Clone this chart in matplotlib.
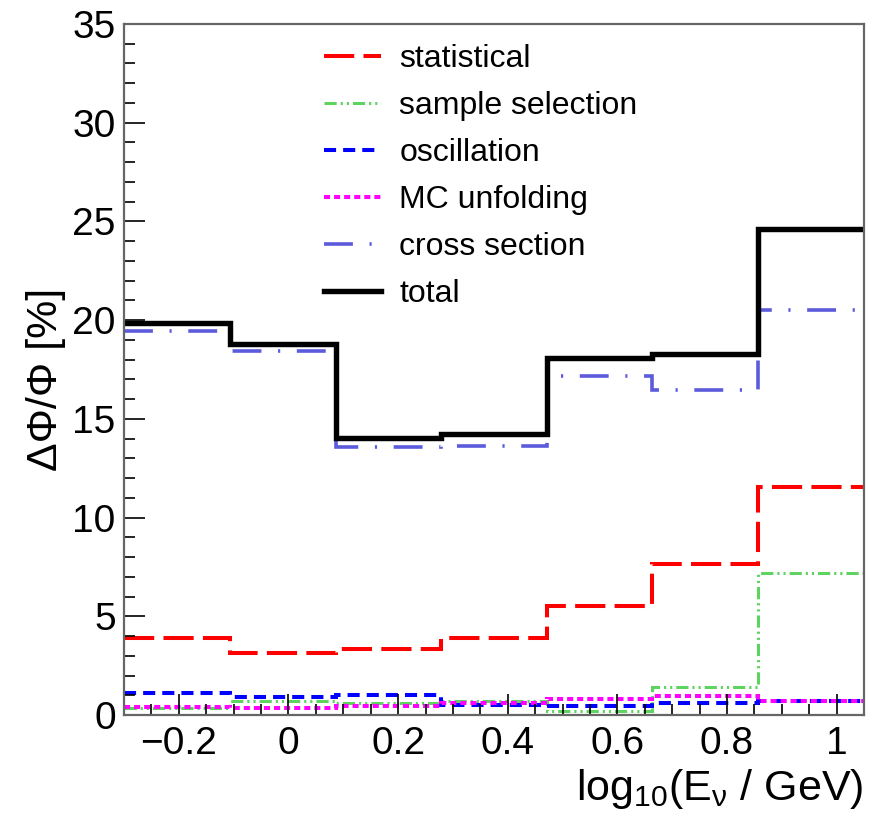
import matplotlib
matplotlib.use("Agg")
import matplotlib.pyplot as plt
from matplotlib.ticker import MultipleLocator

plt.rcParams["font.family"] = ["Liberation Sans", "DejaVu Sans"]
plt.rcParams["mathtext.fontset"] = "custom"
plt.rcParams["mathtext.rm"] = "Liberation Sans"
plt.rcParams["mathtext.it"] = "Liberation Sans"
plt.rcParams["axes.unicode_minus"] = True

# log10(E/GeV) bin edges
edges = [-0.3, -0.107, 0.086, 0.279, 0.471, 0.664, 0.857, 1.05]

# relative flux uncertainty per bin [%]
statistical = [3.88, 3.13, 3.33, 3.88, 5.52, 7.63, 11.53]
sample_sel = [0.38, 0.70, 0.62, 0.72, 0.20, 1.40, 7.21]
oscillation = [1.10, 0.93, 1.01, 0.51, 0.46, 0.59, 0.69]
mc_unfold = [0.42, 0.37, 0.46, 0.59, 0.81, 0.96, 0.69]
xsec = [19.47, 18.44, 13.59, 13.62, 17.19, 16.46, 20.52]
total = [19.87, 18.78, 14.05, 14.22, 18.07, 18.27, 24.62]

labels = ["statistical", "sample selection", "oscillation", "MC unfolding",
          "cross section", "total"]

fig = plt.figure(figsize=(8.76, 8.27), dpi=100)
ax = fig.add_axes([0.1416, 0.1354, 0.8447, 0.8356])

ax.stairs(statistical, edges, baseline=None, color="#ff0000", lw=2.9,
          linestyle=(0, (7.5, 2.3)), label=labels[0])
ax.stairs(sample_sel, edges, baseline=None, color="#5fd35f", lw=2.2,
          linestyle=(0, (4, 1.3, 0.7, 1.3, 0.7, 1.3)), label=labels[1])
ax.stairs(oscillation, edges, baseline=None, color="#0000ff", lw=2.9,
          linestyle=(0, (3, 1.75)), label=labels[2])
ax.stairs(mc_unfold, edges, baseline=None, color="#ff00ff", lw=2.9,
          linestyle=(0, (1.5, 1)), label=labels[3])
ax.stairs(xsec, edges, baseline=None, color="#5b5bdc", lw=2.6,
          linestyle=(0, (8, 4.6, 0.6, 4.6)), label=labels[4])
ax.stairs(total, edges, baseline=None, color="black", lw=3.9,
          linestyle="-", label=labels[5])

ax.set_xlim(-0.3, 1.05)
ax.set_ylim(0, 35)

ax.xaxis.set_major_locator(MultipleLocator(0.2))
ax.xaxis.set_minor_locator(MultipleLocator(0.05))
ax.yaxis.set_major_locator(MultipleLocator(5))
ax.yaxis.set_minor_locator(MultipleLocator(1))
ax.tick_params(which="both", direction="in", top=False, right=False,
               labelsize=28, color="black", width=1.2)
ax.tick_params(which="major", length=15)
ax.tick_params(which="minor", length=8)
ax.tick_params(axis="x", pad=8)
ax.tick_params(axis="y", pad=6)
ax.set_xticks([-0.2, 0, 0.2, 0.4, 0.6, 0.8, 1.0])
ax.set_xticklabels(["\u22120.2", "0", "0.2", "0.4", "0.6", "0.8", "1"])

for s in ax.spines.values():
    s.set_color("#666666")
    s.set_linewidth(1.6)

ax.set_xlabel(r"log$_{10}$(E$_{\nu}$ / GeV)", fontsize=31, ha="right")
ax.xaxis.set_label_coords(1.0, -0.075, transform=ax.transAxes)
ax.xaxis.label.set_va("top")
ax.set_ylabel("\u0394\u03a6/\u03a6 [%]", fontsize=31)
ax.yaxis.set_label_coords(-0.078, 0.485)

ax.legend(loc="upper left", bbox_to_anchor=(0.232, 1.012), frameon=False,
          fontsize=23, handlelength=1.78, handletextpad=0.56, labelspacing=0.53)

fig.savefig("out.png", dpi=100)
